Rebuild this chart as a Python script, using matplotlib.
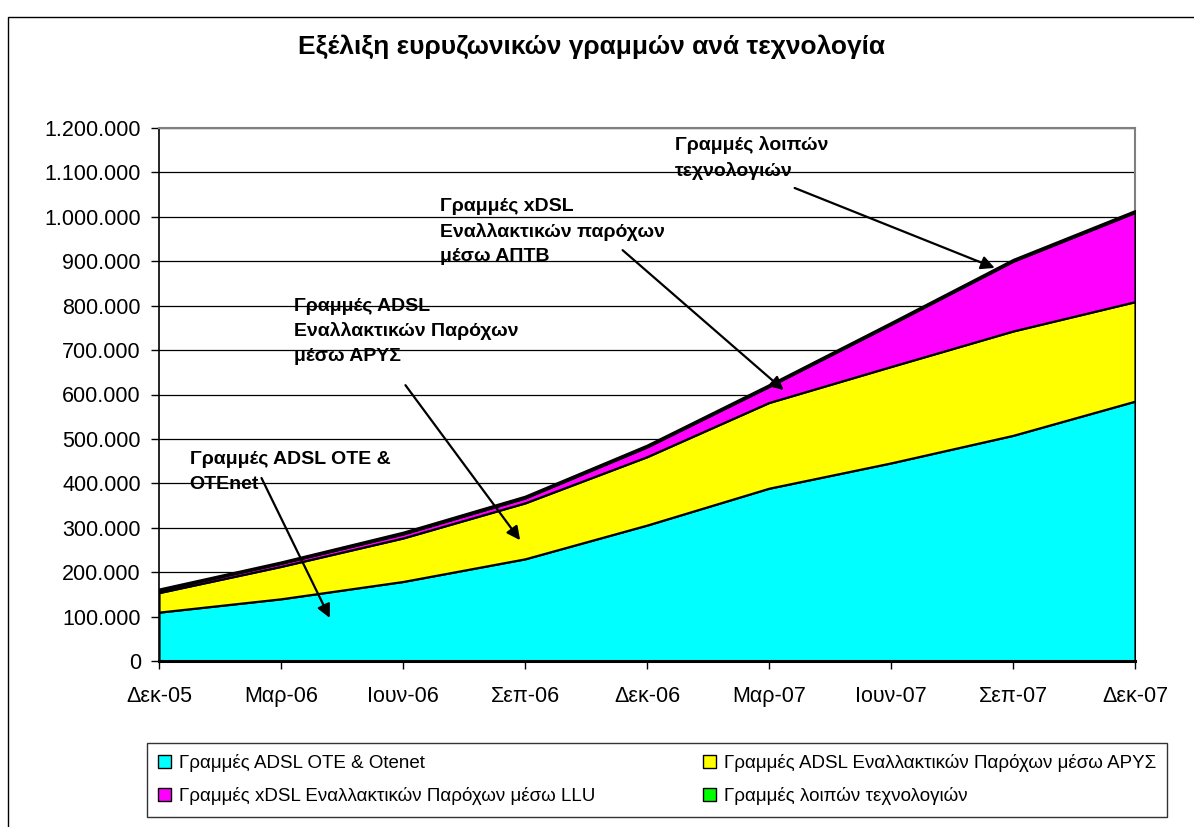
import matplotlib
matplotlib.use("Agg")
import matplotlib.pyplot as plt
from matplotlib.patches import Rectangle, Patch
from matplotlib.ticker import FuncFormatter, MultipleLocator

plt.rcParams['font.family'] = ['Liberation Sans', 'DejaVu Sans']

# --- data (lines) ---
quarters = ['Δεκ-05', 'Μαρ-06', 'Ιουν-06', 'Σεπ-06', 'Δεκ-06', 'Μαρ-07', 'Ιουν-07', 'Σεπ-07', 'Δεκ-07']
adsl_ote = [110000, 140000, 179000, 230000, 306000, 389000, 446000, 508000, 585000]
adsl_arys = [44000, 73000, 98000, 126000, 154000, 193000, 217000, 235000, 224000]
xdsl_llu = [5000, 7000, 9000, 11000, 22000, 36000, 95000, 157000, 201000]
other_tech = [3000, 3000, 4000, 4000, 4000, 4000, 4000, 4000, 4000]

series_names = ['Γραμμές ADSL OTE & Otenet',
                'Γραμμές ADSL Εναλλακτικών Παρόχων μέσω ΑΡΥΣ',
                'Γραμμές xDSL Εναλλακτικών Παρόχων μέσω LLU',
                'Γραμμές λοιπών τεχνολογιών']
series_colors = ['#00FFFF', '#FFFF00', '#FF00FF', '#00FF00']

W, H = 1194, 827
fig = plt.figure(figsize=(W / 100, H / 100), dpi=100)
fig.patch.set_facecolor('white')

# outer chart frame (only left and top edges are visible)
fig.patches.append(Rectangle((8 / W, -0.2), 1.5, 1.2 - 17 / H, transform=fig.transFigure,
                             fill=False, edgecolor='black', linewidth=1.0))

ax = fig.add_axes([159 / W, 1 - 661 / H, 976 / W, 533 / H])
x = list(range(len(quarters)))
ax.stackplot(x, adsl_ote, adsl_arys, xdsl_llu, other_tech, colors=series_colors,
             edgecolor='black', linewidth=1.6, zorder=3)

ax.set_xlim(0, len(quarters) - 1)
ax.set_ylim(0, 1200000)
ax.yaxis.set_major_locator(MultipleLocator(100000))
ax.yaxis.set_major_formatter(FuncFormatter(lambda v, p: f"{int(v):,}".replace(",", ".")))
ax.set_xticks(x)
ax.set_xticklabels(quarters)
ax.grid(axis='y', color='black', linewidth=0.9, zorder=1)
ax.set_axisbelow(True)
ax.tick_params(axis='both', direction='out', length=6, width=1, labelsize=15.5, colors='black')
ax.tick_params(axis='x', pad=12)
ax.tick_params(axis='y', pad=7)
ax.spines['left'].set_linewidth(1.2)
ax.spines['bottom'].set_linewidth(2.2)
ax.spines['bottom'].set_zorder(5)
for side in ('top', 'right'):
    ax.spines[side].set_color('#808080')
    ax.spines[side].set_linewidth(1.5)

fig.text(591 / W, 1 - 47 / H, 'Εξέλιξη ευρυζωνικών γραμμών ανά τεχνολογία',
         ha='center', va='center', fontsize=19, fontweight='bold')

# annotations: text block, arrow start, arrow tip (data coords)
notes = [
    ('Γραμμές ADSL OTE &\nOTEnet', (0.25, 472000), (0.84, 412000), (1.40, 97000)),
    ('Γραμμές ADSL\nΕναλλακτικών Παρόχων\nμέσω ΑΡΥΣ', (1.11, 818000), (2.02, 621000), (2.96, 272000)),
    ('Γραμμές xDSL\nΕναλλακτικών παρόχων\nμέσω ΑΠΤΒ', (2.30, 1042000), (3.80, 925000), (5.12, 610000)),
    ('Γραμμές λοιπών\nτεχνολογιών', (4.23, 1182000), (5.21, 1065000), (6.85, 885000)),
]
for label, txt_xy, start, tip in notes:
    ax.text(txt_xy[0], txt_xy[1], label, ha='left', va='top', fontsize=14,
            fontweight='bold', linespacing=1.55, zorder=6)
    ax.annotate('', xy=tip, xytext=start, zorder=6,
                arrowprops=dict(arrowstyle='-|>', color='black', lw=1.6,
                                mutation_scale=20, shrinkA=0, shrinkB=0))

handles = [Patch(facecolor=c, edgecolor='black', linewidth=1.0) for c in series_colors]
order = [0, 2, 1, 3]
leg = fig.legend([handles[i] for i in order], [series_names[i] for i in order],
                 loc='upper left', ncol=2, mode='expand', borderaxespad=0,
                 bbox_to_anchor=(147 / W, 1 - 743 / H, (1167 - 147) / W, 0.0),
                 fontsize=13.5, frameon=True, fancybox=False, edgecolor='black',
                 handlelength=0.7, handleheight=0.7, handletextpad=0.4,
                 borderpad=0.6, labelspacing=0.8, columnspacing=1.0)
leg.get_frame().set_linewidth(1.0)

fig.savefig('out.png', dpi=100)
